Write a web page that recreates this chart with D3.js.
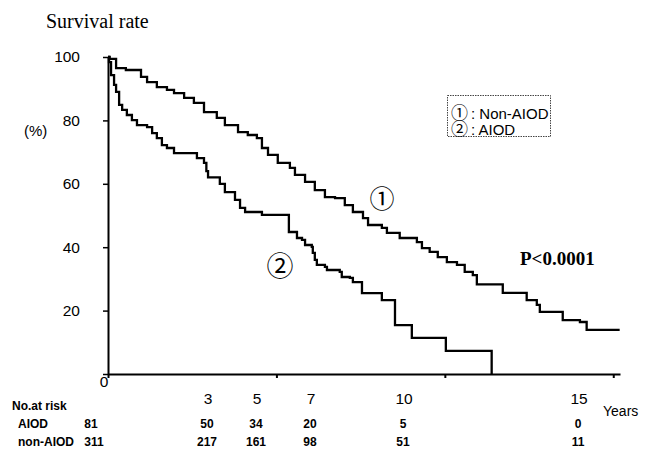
<!DOCTYPE html>
<html><head><meta charset="utf-8">
<script src="https://cdn.jsdelivr.net/npm/d3@7"></script>
<style>body{margin:0;background:#fff} svg{display:block}</style>
</head><body><svg id="c" width="649" height="450"></svg>
<script>
// ---- data ----
const nonAiodTime = [0,0.05,0.24,0.53,0.98,1.16,1.45,1.75,1.96,2.26,2.55,2.85,3.23,3.47,3.86,4.15,4.42,4.57,4.75,5.04,5.40,5.55,5.85,6.14,6.44,6.74,7.03,7.27,7.57,7.72,8.13,8.28,8.66,9.17,9.32,9.55,9.79,10.06,10.36,10.59,10.83,10.95,11.72,12.43,12.73,12.82,13.50,14.01,14.21,15.19];
const nonAiodSurv = [100,99.4,96.5,95.9,93.7,92.1,90.5,89.6,88.6,87.1,85.5,82.6,80.8,78.5,76.3,75.4,74.4,71.3,69.1,66.6,65.0,62.8,60.6,58.0,55.8,55.5,53.3,51.1,49.2,47.0,46.1,44.5,42.9,41.6,39.7,38.5,36.9,35.3,34.4,32.2,31.2,28.3,25.6,23.3,21.8,19.6,17.0,16.4,13.9,13.9];
const aiodTime = [0,0.03,0.09,0.18,0.24,0.33,0.42,0.56,0.71,0.86,1.16,1.31,1.45,1.60,1.75,1.96,2.64,2.85,2.92,2.97,3.32,3.47,3.77,3.92,4.07,4.57,5.37,5.61,5.76,5.85,6.05,6.08,6.14,6.20,6.44,6.50,6.88,6.94,7.18,7.27,7.54,8.13,8.52,9.02,10.03,11.39];
const aiodSurv = [100,98.4,94.3,91.2,89.0,84.9,83.3,81.7,80.1,78.5,77.9,76.0,74.4,72.2,71.3,69.7,68.1,66.6,64.0,62.0,60.0,57.4,54.9,52.4,51.1,50.2,44.8,42.9,42.3,40.7,40.1,38.2,36.0,34.4,33.8,32.8,32.2,30.6,30.3,29.0,25.5,23.3,15.4,11.4,7.3,0];
const yTickValues = [20,40,60,80,100];
const xTickValues = [0,5,10,15];
const riskYearLabels = ["3","5","7","10","15"];
const riskAIOD = [81,50,34,20,5,0];
const riskNonAIOD = [311,217,161,98,51,11];
const legendLabels = ["Non-AIOD","AIOD"];
const legendMarks = ["①","②"];

// ---- layout ----
const colX = [91, 207, 256, 310, 403, 578];
const svg = d3.select("#c");
const x = d3.scaleLinear().domain([0,15.2]).range([108,620]);
const y = d3.scaleLinear().domain([0,100]).range([374,57]);
const sans = "'Liberation Sans', Arial, sans-serif";
const serif = "'Liberation Serif', 'Times New Roman', serif";
const cjk = "'Noto Sans CJK JP', sans-serif";

// y axis
const gy = svg.append("g").attr("transform","translate(108,0)")
  .call(d3.axisLeft(y).tickValues([0,...yTickValues]).tickSize(5).tickSizeOuter(0).tickPadding(23)
    .tickFormat(d => d===0 ? "" : d));
gy.select(".domain").attr("stroke","#000").attr("stroke-width",2);
gy.selectAll(".tick line").attr("stroke","#000").attr("stroke-width",1.5);
gy.selectAll(".tick text").attr("font-family",sans).attr("font-size",15.5).attr("fill","#000");

// x axis
const gx = svg.append("g").attr("transform","translate(0,374)")
  .call(d3.axisBottom(x).tickValues(xTickValues).tickSize(4).tickSizeOuter(0).tickFormat(""));
gx.select(".domain").attr("stroke","#000").attr("stroke-width",2);
gx.selectAll(".tick line").attr("stroke","#000").attr("stroke-width",2);

svg.append("text").attr("x",104).attr("y",387).attr("text-anchor","middle")
  .attr("font-family",sans).attr("font-size",15.5).text("0");

// curves
const line = d3.line().x(d=>x(d[0])).y(d=>y(d[1])).curve(d3.curveStepAfter);
[[nonAiodTime,nonAiodSurv],[aiodTime,aiodSurv]].forEach(([t,s])=>{
  svg.append("path").datum(t.map((v,i)=>[v,s[i]]))
    .attr("d",line).attr("fill","none").attr("stroke","#000").attr("stroke-width",2.3);
});

// titles
svg.append("text").attr("x",46).attr("y",28).attr("font-family",serif).attr("font-size",20).text("Survival rate");
svg.append("text").attr("x",24).attr("y",136).attr("font-family",sans).attr("font-size",15).text("(%)");
svg.append("text").attr("x",520).attr("y",265).attr("font-family",serif).attr("font-weight","bold").attr("font-size",19).text("P<0.0001");
svg.append("text").attr("x",382).attr("y",197).attr("text-anchor","middle").attr("dominant-baseline","central")
  .attr("font-family",cjk).attr("font-size",25).text(legendMarks[0]);
svg.append("text").attr("x",280).attr("y",264).attr("text-anchor","middle").attr("dominant-baseline","central")
  .attr("font-family",cjk).attr("font-size",27).text(legendMarks[1]);

// legend (one multi-line text)
svg.append("rect").attr("x",447.5).attr("y",95.5).attr("width",103).attr("height",41)
  .attr("fill","none").attr("stroke","#444").attr("stroke-width",1).attr("stroke-dasharray","1.5,1");
const lt = svg.append("text").attr("x",451).attr("y",119).attr("font-family",sans).attr("font-size",15);
legendLabels.forEach((lab,i)=>{
  const m = lt.append("tspan").attr("font-family",cjk).attr("font-size",17).text(legendMarks[i]);
  if (i>0) m.attr("x",451).attr("dy",16);
  lt.append("tspan").attr("dx",3).text(": "+lab);
});

// at-risk table
riskYearLabels.forEach((lab,i)=>{
  svg.append("text").attr("x",colX[i+1]+1).attr("y",404).attr("text-anchor","middle")
    .attr("font-family",sans).attr("font-size",15.5).text(lab);
});
svg.append("text").attr("x",603).attr("y",416).attr("font-family",sans).attr("font-size",14).text("Years");
const bold = t => t.attr("font-family",sans).attr("font-weight","bold").attr("font-size",12);
bold(svg.append("text").attr("x",12).attr("y",410).text("No.at risk"));
bold(svg.append("text").attr("x",18).attr("y",428).text("AIOD"));
bold(svg.append("text").attr("x",18).attr("y",446).text("non-AIOD"));
riskAIOD.forEach((v,i)=>bold(svg.append("text").attr("x",colX[i]).attr("y",428).attr("text-anchor","middle").text(v)));
riskNonAIOD.forEach((v,i)=>bold(svg.append("text").attr("x",colX[i]+ (i===0?3:0)).attr("y",446).attr("text-anchor","middle").text(v)));
</script></body></html>
